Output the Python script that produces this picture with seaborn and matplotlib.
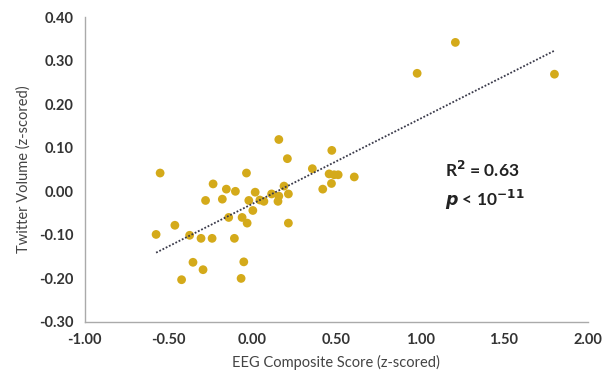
import numpy as np
import pandas as pd
import seaborn as sns
import matplotlib
matplotlib.use("Agg")
import matplotlib.pyplot as plt

eeg_score = [0.157, 0.208, -0.551, -0.036, 0.473, 0.357, 0.457, 0.487, 0.511, 0.607,
             0.471, 0.419, -0.235, -0.156, -0.102, -0.280, -0.180, 0.016, -0.022, 0.044,
             0.068, 0.114, 0.152, 0.157, 0.188, 0.214, 0.002, -0.142, -0.062, -0.032,
             0.214, -0.575, -0.463, -0.375, -0.307, -0.241, -0.108, -0.355, -0.295, -0.052,
             -0.423, -0.068, 1.210, 0.982, 1.801]
twitter_volume = [0.119, 0.075, 0.042, 0.042, 0.094, 0.052, 0.040, 0.038, 0.038, 0.033,
                  0.018, 0.005, 0.017, 0.005, 0.000, -0.021, -0.018, -0.002, -0.021, -0.020,
                  -0.023, -0.006, -0.023, -0.011, 0.012, -0.006, -0.044, -0.060, -0.060, -0.073,
                  -0.073, -0.099, -0.078, -0.101, -0.108, -0.108, -0.108, -0.163, -0.180, -0.162,
                  -0.203, -0.200, 0.342, 0.271, 0.269]
x_ticks = [-1.0, -0.5, 0.0, 0.5, 1.0, 1.5, 2.0]
y_ticks = [-0.3, -0.2, -0.1, 0.0, 0.1, 0.2, 0.3, 0.4]

df = pd.DataFrame({"eeg": eeg_score, "tw": twitter_volume})

sns.set_style("white")
plt.rcParams['font.family'] = ['Lato', 'DejaVu Sans']

fig = plt.figure(figsize=(6.06, 3.81), dpi=100)
ax = fig.add_axes([0.140, 0.155, 0.830, 0.800])

sns.regplot(data=df, x="eeg", y="tw", ax=ax, ci=None, truncate=True,
            scatter_kws=dict(s=40, color="#D4AA1A", edgecolor="none", alpha=1),
            line_kws=dict(color="#3a3a4a", linestyle=(0, (1, 1)), linewidth=1.3))

ax.set_xlim(-1.0, 2.0)
ax.set_ylim(-0.3, 0.4)
ax.set_xticks(x_ticks)
ax.set_yticks(y_ticks)
ax.set_xticklabels([f"{v:.2f}" for v in x_ticks], fontweight="bold", fontsize=10.5, color="#333333")
ax.set_yticklabels([f"{v:.2f}" for v in y_ticks], fontweight="bold", fontsize=10.5, color="#333333")
ax.tick_params(length=0, pad=8)
ax.set_xlabel("EEG Composite Score (z-scored)", fontsize=10.5, color="#444444", fontweight="normal", labelpad=6)
ax.set_ylabel("Twitter Volume (z-scored)", fontsize=10.5, color="#444444", fontweight="normal", labelpad=6)

for s in ["top", "right"]:
    ax.spines[s].set_visible(False)
for s in ["left", "bottom"]:
    ax.spines[s].set_color("#aaaaaa")
    ax.spines[s].set_linewidth(1.0)

ax.text(1.15, 0.048, r"R$^{\mathbf{2}}$ = 0.63", fontsize=12.5, fontweight="bold", color="#222222", va="center")
ax.text(1.15, -0.020, r"$\boldsymbol{p}$ < 10$^{\mathbf{-11}}$", fontsize=12.5, fontweight="bold", color="#222222", va="center")

fig.savefig("out.png", dpi=100)
